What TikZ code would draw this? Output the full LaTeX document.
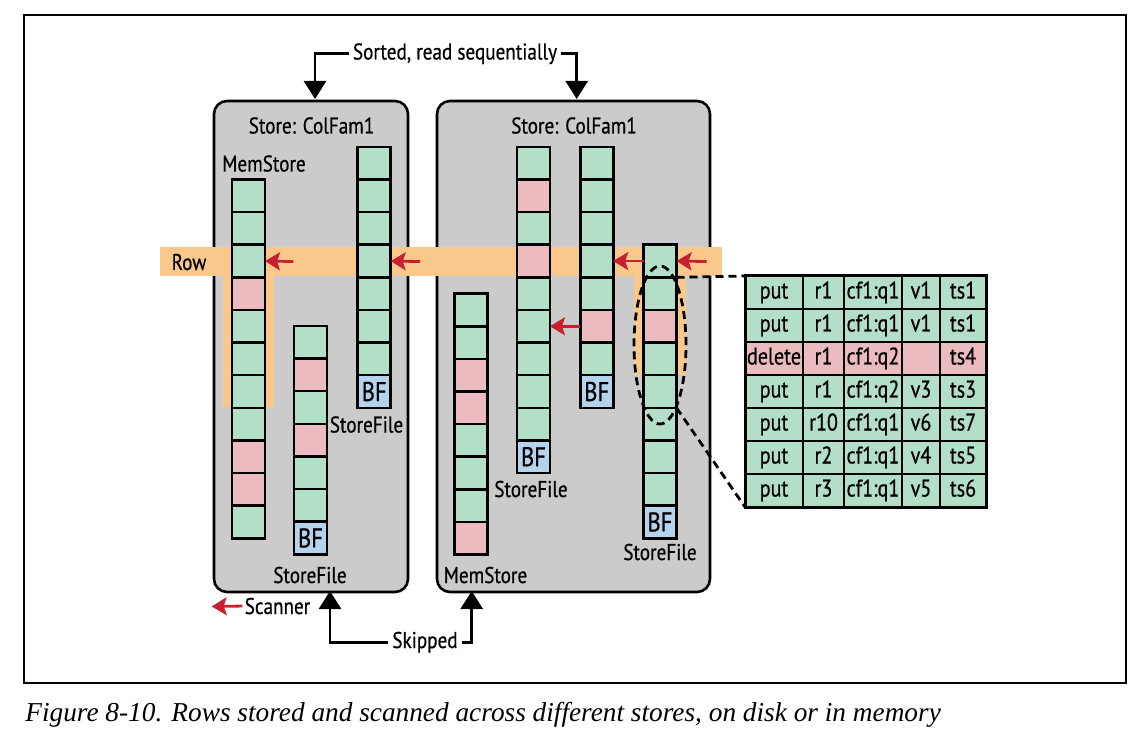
\documentclass[tikz,border=0pt]{standalone}
\usepackage{fontspec}
\setmainfont{PT Sans}[FakeStretch=0.84,FakeBold=0.6]
\newfontfamily\capfont{Liberation Serif}
\usetikzlibrary{arrows.meta,shapes.geometric}
\definecolor{G}{HTML}{B3DEC8}
\definecolor{P}{HTML}{EBBBBF}
\definecolor{B}{HTML}{B3D4EC}
\definecolor{boxgray}{HTML}{CBCBCB}
\definecolor{rowor}{HTML}{FBC88C}
\definecolor{arred}{HTML}{C7212F}
\newcommand\cellcol[4]{%
  \foreach \c [count=\i] in {#4} {\node[cell,fill=\c] (#1\i) at (#2,{#3+(\i-0.5)*32.6}) {};}}
\newcommand\bfcell[4]{%
  \node[cell,fill=B,font=\fontsize{13.5}{14}\selectfont,text height=9.5pt,text depth=0pt] (#1bf) at (#2,{#3+(#4+0.5)*32.6}) {BF};}
\newcommand\trow[7]{%
  \node[tc,fill=#2,minimum width=29pt]   (t#1a) at (774,{276+(#1-0.5)*33}) {#3};
  \node[tc,fill=#2,minimum width=20.5pt] (t#1b) at (823.5,{276+(#1-0.5)*33}) {#4};
  \node[tc,fill=#2,minimum width=29pt]   (t#1c) at (873,{276+(#1-0.5)*33}) {#5};
  \node[tc,fill=#2,minimum width=19pt]   (t#1d) at (921,{276+(#1-0.5)*33}) {#6};
  \node[tc,fill=#2,minimum width=23pt]   (t#1e) at (963,{276+(#1-0.5)*33}) {#7};}
\begin{document}
\begin{tikzpicture}[x=0.5pt,y=-0.5pt,
  cell/.style={draw,line width=1.3pt,minimum width=16.5pt,minimum height=16.3pt,inner sep=0pt,outer sep=0pt},
  tc/.style={draw,line width=1.1pt,minimum height=16.5pt,inner sep=0pt,outer sep=0pt,text height=8pt,text depth=2pt,font=\fontsize{12}{13}\selectfont},
  storebox/.style={draw,line width=1.3pt,fill=boxgray,rounded corners=6.5pt,inner sep=0pt,outer sep=0pt,minimum height=245.5pt},
  lab/.style={inner sep=0pt,anchor=base,font=\fontsize{11.4}{13}\selectfont},
  redarr/.style={draw=arred,line width=1.4pt,-{Stealth[length=7.5pt,width=9pt,inset=1.5pt]}},
  blkarr/.style={draw,line width=1.4pt,-{Triangle[length=9pt,width=11pt]}},
  dashline/.style={draw,line width=1.4pt,dash pattern=on 4pt off 2.5pt}]
\useasboundingbox (0,0) rectangle (1145,737);
\draw[line width=0.9pt] (24.3,15) rectangle (1125.7,683.3);
% store boxes
\node[storebox,minimum width=97pt] (box1) at (311,346.5) {};
\node[storebox,minimum width=136.5pt] (box2) at (573.5,346.5) {};
% orange row band
\fill[rowor] (160,246.7) rectangle (722,276);
\fill[rowor] (223,246.7) rectangle (274,407);
\fill[rowor] (634,246.7) rectangle (686,375);
% columns
\cellcol{A}{248.5}{179.6}{G,G,G,P,G,G,G,G,P,P,G}
\cellcol{Bc}{310.5}{326}{G,P,G,P,G,G}
\bfcell{Bc}{310.5}{326}{6}
\cellcol{C}{374.2}{147}{G,G,G,G,G,G,G}
\bfcell{C}{374.2}{147}{7}
\cellcol{D}{470.7}{293.7}{G,G,P,P,G,G,G,P}
\cellcol{E}{533.5}{147}{G,P,G,P,G,G,G,G,G}
\bfcell{E}{533.5}{147}{9}
\cellcol{F}{596.7}{147}{G,G,G,G,G,P,G}
\bfcell{F}{596.7}{147}{7}
\cellcol{Gc}{660}{244.8}{G,G,P,G,G,G,G,G}
\bfcell{Gc}{660}{244.8}{8}
% labels
\node[lab] (sorted) at (455,59.5) {Sorted, read sequentially};
\node[lab] (st1) at (311.5,133.5) {Store: ColFam1};
\node[lab] (st2) at (574,133.5) {Store: ColFam1};
\node[lab] (mem1) at (264,171.5) {MemStore};
\node[lab] (row) at (189,270) {Row};
\node[lab] (sfC) at (366.5,432.5) {StoreFile};
\node[lab] (sfB) at (310,583) {StoreFile};
\node[lab] (mem2) at (485.5,583) {MemStore};
\node[lab] (sfE) at (531,497) {StoreFile};
\node[lab] (sfG) at (660,560) {StoreFile};
\node[lab] (scanner) at (277.5,614) {Scanner};
\node[lab] (skipped) at (425,648) {Skipped};
% red scanner arrows
\coordinate (r1) at (293.3,261.5);
\coordinate (r2) at (420,261.5);
\coordinate (r4) at (706.7,261.5);
\coordinate (sc) at (211.7,606.5);
\draw[redarr] (r1) -- (A3.east);
\draw[redarr] (r2) -- (C4.east);
\draw[redarr] (Gc1.west) -- (F4.east);
\draw[redarr] (r4) -- (Gc1.east);
\draw[redarr] (F6.west) -- (E6.east);
\draw[redarr,shorten <=1pt] (scanner.west) -- (sc);
% black bracket arrows
\coordinate (s1) at (315,99);
\coordinate (s2) at (576.7,99);
\coordinate (k1) at (330,591);
\coordinate (k2) at (471.7,591);
\draw[blkarr,shorten <=2pt] (sorted.west) -| (s1);
\draw[blkarr,shorten <=2pt] (sorted.east) -| (s2);
\draw[blkarr,shorten <=2pt] (skipped.west) -| (k1);
\draw[blkarr,shorten <=2pt] (skipped.east) -| (k2);
% ellipse
\node[dashline,ellipse,minimum width=26pt,minimum height=79pt,inner sep=0pt] (ell) at (660,345) {};
% table
\trow{1}{G}{put}{r1}{cf1:q1}{v1}{ts1}
\trow{2}{G}{put}{r1}{cf1:q1}{v1}{ts1}
\trow{3}{P}{delete}{r1}{cf1:q2}{}{ts4}
\trow{4}{G}{put}{r1}{cf1:q2}{v3}{ts3}
\trow{5}{G}{put}{r10}{cf1:q1}{v6}{ts7}
\trow{6}{G}{put}{r2}{cf1:q1}{v4}{ts5}
\trow{7}{G}{put}{r3}{cf1:q1}{v5}{ts6}
\draw[line width=1.5pt] (t1a.north west) rectangle (t7e.south east);
\draw[dashline] (Gc1.south east) -- (t1a.north west);
\draw[dashline] (Gc5.south east) -- (t7a.south west);
% caption
\node[anchor=base west,inner sep=0pt,font=\capfont\itshape\fontsize{13.65}{15}\selectfont] (cap) at (25,721) {Figure 8-10. Rows stored and scanned across different stores, on disk or in memory};
\end{tikzpicture}
\end{document}
